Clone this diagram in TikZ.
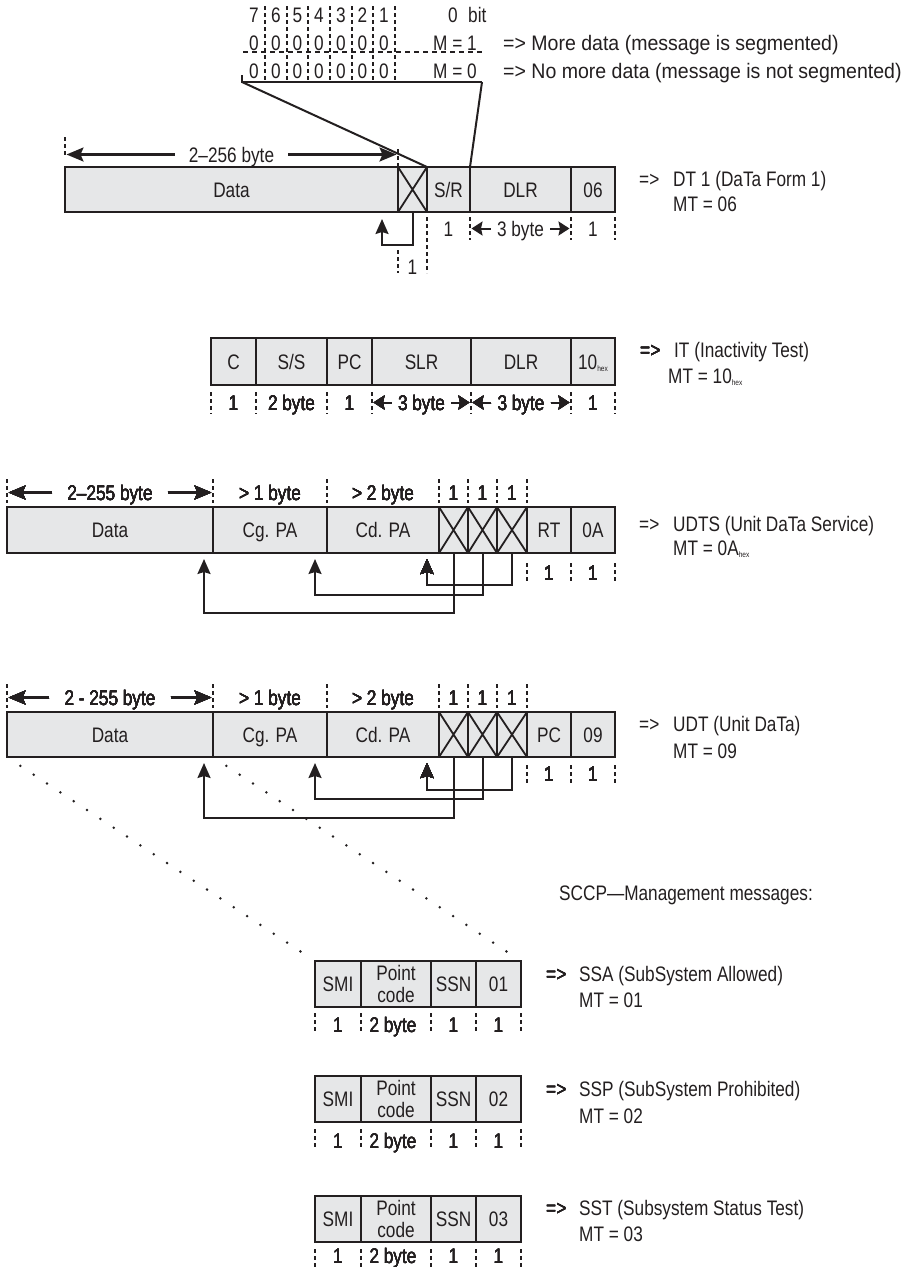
\documentclass[tikz,border=0pt]{standalone}
\usepackage{fontspec}
\setmainfont{Liberation Sans}[FakeStretch=0.82]
\newfontfamily\widefont{Liberation Sans}[FakeStretch=0.93]
\usetikzlibrary{arrows.meta,calc}
\definecolor{ink}{HTML}{231F20}
\definecolor{boxfill}{HTML}{E6E7E8}
\newcommand\hexs{\raisebox{-2pt}{\fontsize{8}{8}\selectfont hex}}
% field: name, x1, x2, ytop, ybot, text
\newcommand\fld[6]{\node[fld, minimum width={(#3-#2)*1pt}, minimum height={(#5-#4)*1pt}] (#1) at (#2,#4) {#6};}
\newcommand\xfld[5]{\node[fld, minimum width={(#3-#2)*1pt}, minimum height={(#5-#4)*1pt}] (#1) at (#2,#4) {};
  \draw[crs] (#1.north west) -- (#1.south east) (#1.north east) -- (#1.south west);}
\newcommand\dtick[3]{\draw[tk] (#1,#2) -- (#1,#3);}
\newcommand\dlbl[4]{\node[lbl] (#1) at (#2,#3) {#4};}
% name, xl, xr, baseline, text, arrow style, gap
\newcommand\spanlbl[7]{%
  \node[lbl] (#1) at ({(#2+#3)/2},#4) {#5};
  \coordinate (#1-l) at (#2+1.5,#4-7.5);
  \coordinate (#1-r) at (#3-1.5,#4-7.5);
  \draw[#6] ($(#1.base west)+(-#7,-7.5)$) -- (#1-l);
  \draw[#6] ($(#1.base east)+(#7,-7.5)$) -- (#1-r);}
\begin{document}
\begin{tikzpicture}[x=1pt,y=-1pt,font=\fontsize{21}{22}\selectfont,
  fld/.style={draw=ink, fill=boxfill, line width=2.4pt, inner sep=0pt, outer sep=0pt,
    anchor=north west, align=center, text=ink, text height=15pt, text depth=0pt},
  crs/.style={draw=ink, line width=1.8pt},
  tk/.style={draw=ink, line width=1.6pt, dash pattern=on 4pt off 3pt},
  lbl/.style={inner sep=0pt, text=ink, anchor=base},
  rl/.style={inner sep=0pt, text=ink, anchor=base west},
  line/.style={draw=ink, line width=2pt},
  ptr/.style={draw=ink, line width=2pt, -{Stealth[length=15pt,width=13pt,inset=2pt]}},
  bigarr/.style={draw=ink, line width=2.2pt, -{Stealth[length=17pt,width=14pt,inset=3pt]}},
  smarr/.style={draw=ink, line width=2pt, -{Stealth[length=11pt,width=14pt,inset=1.5pt]}},
  dotl/.style={draw=ink, line width=2.8pt, line cap=round, dash pattern=on 0pt off 16pt}]
\fill[white] (0,0) rectangle (904,1267);
\useasboundingbox (0,0) rectangle (904,1267);

% ---------------- bit layout ----------------
\foreach \x in {265,287,308,330,352,373,395} \draw[tk] (\x,6) -- (\x,81);
\draw[tk, dash pattern=on 5pt off 4pt] (243,52) -- (482,52);
\coordinate (brl) at (242,82);
\coordinate (brr) at (482,82);
\draw[line] (242,75) -- (brl) -- (brr);
\foreach \d/\x in {7/254,6/276,5/297.5,4/319,3/341,2/362.5,1/384} {
  \node[lbl] (t\d) at (\x,22) {\d};
  \node[lbl] (u\d) at (\x,50) {0};
  \node[lbl] (v\d) at (\x,78) {0};
}
\node[lbl] (t0) at (453,22) {0};
\node[rl] (tbit) at (468,22) {bit};
\node[lbl] (u0) at (455,50) {M = 1};
\node[lbl] (v0) at (455,78) {M = 0};
\node[rl, font=\widefont\fontsize{21}{22}\selectfont] (utxt) at (503,50) {=> More data (message is segmented)};
\node[rl, font=\widefont\fontsize{21}{22}\selectfont] (vtxt) at (503,78) {=> No more data (message is not segmented)};

% ---------------- DT1 ----------------
\fld{dtdata}{65}{398}{167}{212}{Data}
\xfld{dtx}{398}{427}{167}{212}
\fld{dtsr}{427}{470}{167}{212}{S/R}
\fld{dtdlr}{470}{571}{167}{212}{DLR}
\fld{dtmt}{571}{615}{167}{212}{06}
\draw[line] (brl) -- (dtx.north east);
\draw[line] (brr) -- (dtdlr.north west);
\dtick{65}{137}{157}
\dtick{398}{149}{167}
\spanlbl{dtlen}{65}{398}{162}{2–256 byte}{bigarr}{14}
\draw[ptr] (dtx.south) -- ++(0,33) -| ($(dtdata.south east)+(-16,7)$);
\dtick{427}{217}{273}
\dtick{470}{217}{240}
\dtick{571}{217}{240}
\dtick{615}{217}{240}
\dtick{398}{250}{273}
\dlbl{dtl1}{448.5}{236}{1}
\spanlbl{dtl2}{470}{571}{236}{3 byte}{smarr}{6}
\dlbl{dtl3}{593}{236}{1}
\dlbl{dtl4}{412.5}{274}{1}
\node[rl] (dtarrw) at (639,186) {=>};
\node[rl] (dtname) at (673,186) {DT 1 (DaTa Form 1)};
\node[rl] (dtmtl) at (673,211) {MT = 06};

% ---------------- IT ----------------
\fld{itc}{211}{256}{338}{385}{C}
\fld{itss}{256}{327}{338}{385}{S/S}
\fld{itpc}{327}{372}{338}{385}{PC}
\fld{itslr}{372}{471}{338}{385}{SLR}
\fld{itdlr}{471}{571}{338}{385}{DLR}
\fld{itmt}{571}{615}{338}{385}{10\hexs}
\foreach \x in {211,256,327,372,471,571,615} \dtick{\x}{392}{414}
\dlbl{itl1}{233.5}{410}{1}
\dlbl{itl2}{291.5}{410}{2 byte}
\dlbl{itl3}{349.5}{410}{1}
\spanlbl{itl4}{372}{471}{410}{3 byte}{smarr}{6}
\spanlbl{itl5}{471}{571}{410}{3 byte}{smarr}{6}
\dlbl{itl6}{593}{410}{1}
\node[rl] (itarrw) at (640,357) {=>};
\node[rl] (itname) at (674,357) {IT (Inactivity Test)};
\node[rl] (itmtl) at (668,383) {MT = 10\hexs};

% ---------------- UDTS ----------------
\fld{usdata}{7}{213}{507}{553}{Data}
\fld{uscg}{213}{327}{507}{553}{Cg. PA}
\fld{uscd}{327}{439}{507}{553}{Cd. PA}
\xfld{usx1}{439}{468}{507}{553}
\xfld{usx2}{468}{497}{507}{553}
\xfld{usx3}{497}{527}{507}{553}
\fld{usrt}{527}{571}{507}{553}{RT}
\fld{usmt}{571}{615}{507}{553}{0A}
\foreach \x in {7,213,327,439,468,497,527} \dtick{\x}{479}{503}
\spanlbl{uslen}{7}{213}{500}{2–255 byte}{bigarr}{15}
\dlbl{usa1}{270}{500}{> 1 byte}
\dlbl{usa2}{383}{500}{> 2 byte}
\dlbl{usa3}{453.5}{500}{1}
\dlbl{usa4}{482.5}{500}{1}
\dlbl{usa5}{512}{500}{1}
\foreach \x in {527,571,615} \dtick{\x}{563}{583}
\dlbl{usb1}{549}{580}{1}
\dlbl{usb2}{593}{580}{1}
\draw[ptr] (usx3.south) -- ++(0,32) -| ($(uscd.south east)+(-12,6)$);
\draw[ptr] (usx2.south) -- ++(0,42) -| ($(uscg.south east)+(-12,6)$);
\draw[ptr] (usx1.south) -- ++(0,60) -| ($(usdata.south east)+(-9,6)$);
\node[rl] (usarrw) at (639,531) {=>};
\node[rl] (usname) at (673,531) {UDTS (Unit DaTa Service)};
\node[rl] (usmtl) at (673,555) {MT = 0A\hexs};

% ---------------- UDT ----------------
\fld{uddata}{7}{213}{712}{757}{Data}
\fld{udcg}{213}{327}{712}{757}{Cg. PA}
\fld{udcd}{327}{439}{712}{757}{Cd. PA}
\xfld{udx1}{439}{468}{712}{757}
\xfld{udx2}{468}{497}{712}{757}
\xfld{udx3}{497}{527}{712}{757}
\fld{udpc}{527}{571}{712}{757}{PC}
\fld{udmt}{571}{615}{712}{757}{09}
\foreach \x in {7,213,327,439,468,497,527} \dtick{\x}{684}{708}
\spanlbl{udlen}{7}{213}{705}{2 - 255 byte}{bigarr}{15}
\dlbl{uda1}{270}{705}{> 1 byte}
\dlbl{uda2}{383}{705}{> 2 byte}
\dlbl{uda3}{453.5}{705}{1}
\dlbl{uda4}{482.5}{705}{1}
\dlbl{uda5}{512}{705}{1}
\foreach \x in {527,571,615} \dtick{\x}{765}{785}
\dlbl{udb1}{549}{781}{1}
\dlbl{udb2}{593}{781}{1}
\draw[ptr] (udx3.south) -- ++(0,33) -| ($(udcd.south east)+(-12,6)$);
\draw[ptr] (udx2.south) -- ++(0,42) -| ($(udcg.south east)+(-12,6)$);
\draw[ptr] (udx1.south) -- ++(0,61) -| ($(uddata.south east)+(-9,6)$);
\node[rl] (udarrw) at (639,731) {=>};
\node[rl] (udname) at (673,731) {UDT (Unit DaTa)};
\node[rl] (udmtl) at (673,758) {MT = 09};

% ---------------- SCCP management ----------------
\node[rl] (sccp) at (559,900) {SCCP—Management messages:};

% SSA
\fld{asmi}{315}{361}{961}{1007}{SMI}
\node[fld, text height=, text depth=, minimum width=70pt, minimum height=46pt] (apc) at (361,961) {Point\\code};
\fld{assn}{431}{476}{961}{1007}{SSN}
\fld{amt}{476}{521}{961}{1007}{01}
\foreach \x in {315,361,431,476,521} \dtick{\x}{1013}{1033}
\dlbl{al1}{338}{1032}{1}
\dlbl{al2}{393}{1032}{2 byte}
\dlbl{al3}{453.5}{1032}{1}
\dlbl{al4}{498.5}{1032}{1}
\node[rl] (aarrw) at (546,981) {=>};
\node[rl] (aname) at (579,981) {SSA (SubSystem Allowed)};
\node[rl] (amtl) at (579,1007) {MT = 01};

% SSP
\fld{psmi}{315}{361}{1076}{1122}{SMI}
\node[fld, text height=, text depth=, minimum width=70pt, minimum height=46pt] (ppc) at (361,1076) {Point\\code};
\fld{pssn}{431}{476}{1076}{1122}{SSN}
\fld{pmt}{476}{521}{1076}{1122}{02}
\foreach \x in {315,361,431,476,521} \dtick{\x}{1129}{1149}
\dlbl{pl1}{338}{1148}{1}
\dlbl{pl2}{393}{1148}{2 byte}
\dlbl{pl3}{453.5}{1148}{1}
\dlbl{pl4}{498.5}{1148}{1}
\node[rl] (parrw) at (546,1096) {=>};
\node[rl] (pname) at (579,1096) {SSP (SubSystem Prohibited)};
\node[rl] (pmtl) at (579,1123) {MT = 02};

% SST
\fld{tsmi}{315}{361}{1196}{1242}{SMI}
\node[fld, text height=, text depth=, minimum width=70pt, minimum height=46pt] (tpc) at (361,1196) {Point\\code};
\fld{tssn}{431}{476}{1196}{1242}{SSN}
\fld{tmt}{476}{521}{1196}{1242}{03}
\foreach \x in {315,361,431,476,521} \dtick{\x}{1249}{1267}
\dlbl{tl1}{338}{1263}{1}
\dlbl{tl2}{393}{1263}{2 byte}
\dlbl{tl3}{453.5}{1263}{1}
\dlbl{tl4}{498.5}{1263}{1}
\node[rl] (tarrw) at (546,1215) {=>};
\node[rl] (tname) at (579,1215) {SST (Subsystem Status Test)};
\node[rl] (tmtl) at (579,1241) {MT = 03};

% dotted zoom lines
\draw[dotl] ($(uddata.south west)!16pt!(asmi.north west)$) -- ($(asmi.north west)!6pt!(uddata.south west)$);
\draw[dotl] ($(udcg.south west)!16pt!(amt.north east)$) -- ($(amt.north east)!6pt!(udcg.south west)$);
\end{tikzpicture}
\end{document}
